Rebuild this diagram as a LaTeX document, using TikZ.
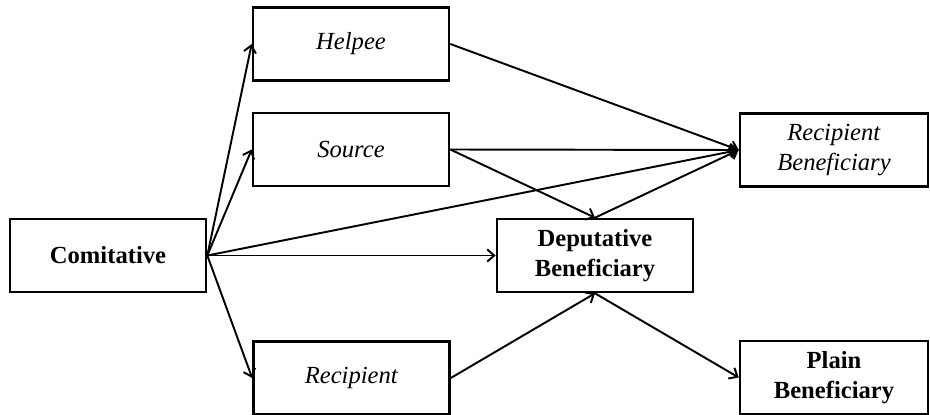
\documentclass[tikz,border=0pt]{standalone}
\usepackage{fontspec}
\setmainfont{Liberation Serif}
\usetikzlibrary{arrows.meta}

\begin{document}
\begin{tikzpicture}[auto,
    box/.style={draw, line width=1.5pt, minimum width=3.92cm, minimum height=1.46cm,
      inner sep=0pt, align=center, font=\fontsize{14}{17.5}\selectfont},
    link/.style={line width=1.1pt, -{Straight Barb[length=4pt,width=7pt]}}]
    \useasboundingbox (0, 0) rectangle (18.6, 8.28);
    \node[box] (com) at (2.16, 3.17) {\textbf{Comitative}};
    \node[box] (help) at (7.02, 7.40) {\textit{Helpee}};
    \node[box] (src) at (7.02, 5.29) {\textit{Source}};
    \node[box] (rec) at (7.03, 0.72) {\textit{Recipient}};
    \node[box] (dep) at (11.90, 3.17) {\textbf{Deputative}\\\textbf{Beneficiary}};
    \node[box, minimum width=3.76cm] (recben) at (16.68, 5.28) {\textit{Recipient}\\\textit{Beneficiary}};
    \node[box, minimum width=3.76cm] (plain) at (16.68, 0.73) {\textbf{Plain}\\\textbf{Beneficiary}};
    \draw [link] (com.east) to (help.west);
    \draw [link] (com.east) to (src.west);
    \draw [link] (com.east) to (recben.west);
    \draw [link] (com.east) to (dep.west);
    \draw [link] (com.east) to (rec.west);
    \draw [link] (help.east) to (recben.west);
    \draw [link] (src.east) to (recben.west);
    \draw [link] (src.east) to (dep.north);
    \draw [link] (rec.east) to (dep.south);
    \draw [link] (dep.north) to (recben.west);
    \draw [link] (dep.south) to (plain.west);
  \end{tikzpicture}
\end{document}
